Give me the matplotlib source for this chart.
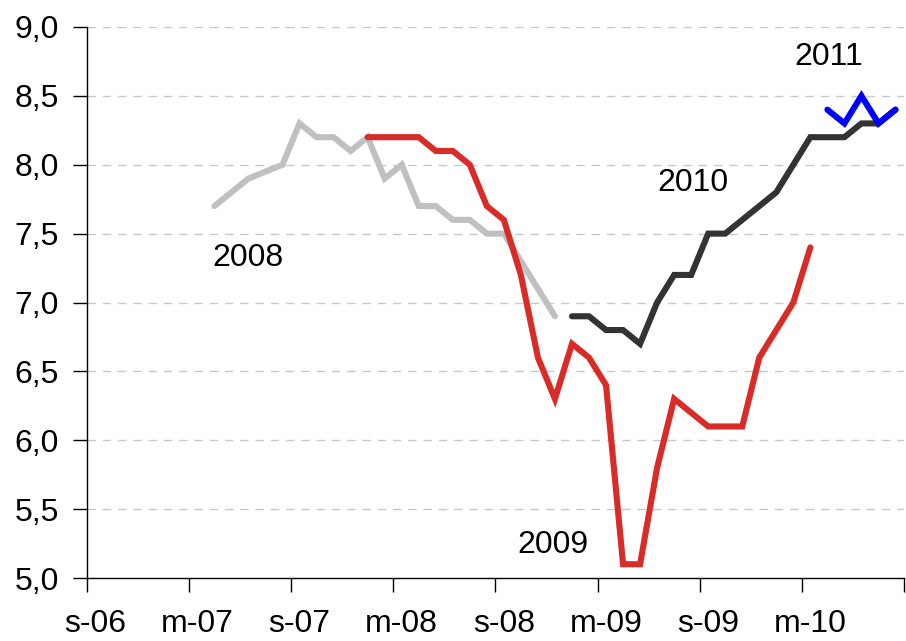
import matplotlib
matplotlib.use("Agg")
import matplotlib.pyplot as plt
import numpy as np

plt.rcParams['font.family'] = ['Liberation Sans', 'DejaVu Sans']

# x categories: monthly, Sep-2006 .. Aug-2010 (48 months)
n_months = 48
tick_labels = ["s-06", "m-07", "s-07", "m-08", "s-08", "m-09", "s-09", "m-10"]
y_ticks = [5.0, 5.5, 6.0, 6.5, 7.0, 7.5, 8.0, 8.5, 9.0]

# series: start month index and values
start_2008 = 7
vals_2008 = [7.7, 7.8, 7.9, 7.95, 8.0, 8.3, 8.2, 8.2, 8.1, 8.2, 7.9, 8.0, 7.7, 7.7,
             7.6, 7.6, 7.5, 7.5, 7.3, 7.1, 6.9]
start_2009 = 16
vals_2009 = [8.2, 8.2, 8.2, 8.2, 8.1, 8.1, 8.0, 7.7, 7.6, 7.2, 6.6, 6.3, 6.7, 6.6,
             6.4, 5.1, 5.1, 5.8, 6.3, 6.2, 6.1, 6.1, 6.1, 6.6, 6.8, 7.0, 7.4]
start_2010 = 28
vals_2010 = [6.9, 6.9, 6.8, 6.8, 6.7, 7.0, 7.2, 7.2, 7.5, 7.5, 7.6, 7.7, 7.8, 8.0,
             8.2, 8.2, 8.2, 8.3, 8.3, 8.4]
start_2011 = 43
vals_2011 = [8.4, 8.3, 8.5, 8.3, 8.4]

series_names = ["2008", "2009", "2010", "2011"]
label_pos = [(8.97, 7.32), (26.9, 5.24), (35.1, 7.87), (43.1, 8.78)]

fig = plt.figure(figsize=(9.06, 6.41), dpi=100)
ax = fig.add_axes([86.7 / 906, 1 - 578 / 641, (904 - 86.7) / 906, (578 - 27) / 641])

lw = 4.4
for start, vals, col in [(start_2008, vals_2008, '#C0C0C0'),
                         (start_2009, vals_2009, '#D92B27'),
                         (start_2010, vals_2010, '#333333'),
                         (start_2011, vals_2011, '#0000FF')]:
    xs = np.arange(start, start + len(vals))
    ax.plot(xs, vals, color=col, lw=lw, solid_capstyle='round', solid_joinstyle='miter')

for name, (x, y) in zip(series_names, label_pos):
    ax.text(x, y, name, fontsize=23, ha='center', va='center', color='black')

ax.set_xlim(-0.5, n_months - 0.5)
ax.set_ylim(5.0, 9.0)

ax.set_yticks(y_ticks)
ax.set_yticklabels([f"{v:.1f}".replace('.', ',') for v in y_ticks], fontsize=23)
for v in y_ticks[1:]:
    ax.axhline(v, color='#C8C8C8', lw=1.0, dashes=(6, 5), zorder=0)

major = np.arange(-0.5, n_months, 6)
ax.set_xticks(major)
ax.set_xticklabels([])
ax.set_xticks(np.arange(0, n_months, 6), minor=True)
ax.set_xticklabels(tick_labels, minor=True, fontsize=23)
ax.tick_params(axis='x', which='major', direction='out', length=10, width=1, color='black')
ax.tick_params(axis='x', which='minor', length=0, pad=22)
ax.tick_params(axis='y', direction='out', length=10, width=1, pad=10)

for s in ['top', 'right']:
    ax.spines[s].set_visible(False)
for s in ['left', 'bottom']:
    ax.spines[s].set_color('black')
    ax.spines[s].set_linewidth(1.0)

fig.savefig("out.png", dpi=100)
